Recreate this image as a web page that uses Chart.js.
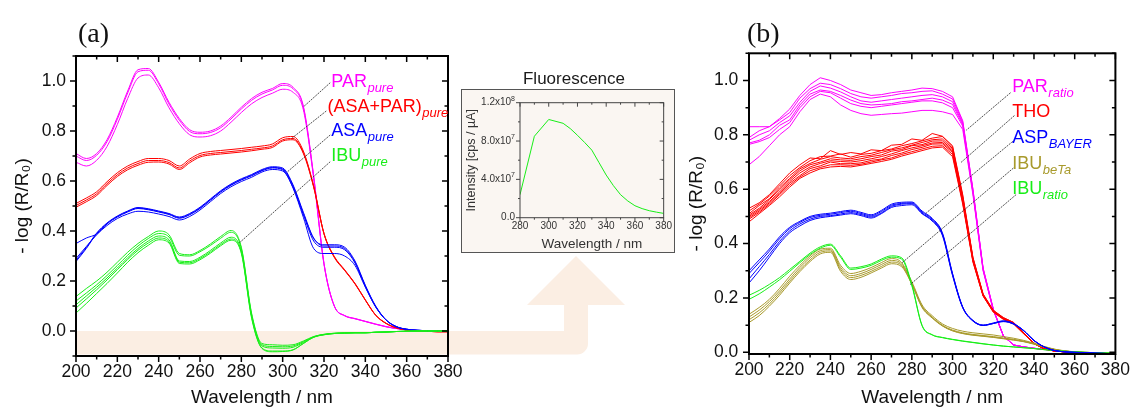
<!DOCTYPE html>
<html>
<head>
<meta charset="utf-8">
<title>UV reflectance spectra</title>
<script src="https://cdn.jsdelivr.net/npm/chart.js@4.4.1/dist/chart.umd.min.js"></script>
<style>
  html, body { margin: 0; padding: 0; background: #fff; }
  #page { position: relative; width: 1136px; height: 410px; overflow: hidden; font-family: "Liberation Sans", Arial, sans-serif; }
  canvas { position: absolute; }
  #chartA { left: 0; top: 0; z-index: 1; }
  #chartB { left: 680px; top: 0; z-index: 1; }
  #inset { position: absolute; left: 461px; top: 89px; width: 214px; height: 164px; box-sizing: border-box; border: 1px solid #555; background: #faf6f2; z-index: 2; }
  #chartF { left: 461px; top: 89px; z-index: 3; }
  #fluoTitle { position: absolute; left: 474px; width: 200px; top: 69px; text-align: center; font-size: 17px; line-height: 20px; color: #1a1a1a; z-index: 3; }
  .panel { position: absolute; top: 17px; font-family: "Liberation Serif", "Times New Roman", serif; font-size: 28px; line-height: 32px; color: #111; z-index: 3; }
</style>
</head>
<body>
<div id="page">
  <div class="panel" style="left:78px">(a)</div>
  <div class="panel" style="left:747px">(b)</div>
  <canvas id="chartA" width="680" height="410"></canvas>
  <div id="inset"></div>
  <div id="fluoTitle">Fluorescence</div>
  <canvas id="chartF" width="214" height="164"></canvas>
  <canvas id="chartB" width="456" height="410"></canvas>
</div>
<script>
// ---- shared wavelength grid (nm) and axis ticks ----
const WL = [200,205,210,215,220,225,230,235,240,245,250,255,260,265,270,275,280,285,290,295,300,305,310,315,320,325,330,335,340,345,350,355,360,365,370,375,380];
const X_TICKS = [200,220,240,260,280,300,320,340,360,380];
const Y_TICKS = [0,0.2,0.4,0.6,0.8,1.0];

// ---- (a) pure substances, -log(R/R0) ----
const PAR_PURE_1 = [0.71,0.69,0.71,0.765,0.855,0.96,1.045,1.05,0.995,0.915,0.85,0.805,0.795,0.80,0.82,0.855,0.895,0.93,0.955,0.97,0.99,0.975,0.9,0.62,0.27,0.1,0.062,0.05,0.039,0.028,0.018,0.01,0.005,0.002,0.001,0,0];
const PAR_PURE_2 = [0.70,0.682,0.703,0.757,0.847,0.952,1.037,1.043,0.989,0.908,0.843,0.798,0.789,0.794,0.813,0.848,0.888,0.923,0.948,0.964,0.983,0.969,0.895,0.618,0.27,0.1,0.061,0.049,0.038,0.027,0.017,0.01,0.005,0.002,0.001,0,0];
const PAR_PURE_3 = [0.675,0.66,0.683,0.738,0.826,0.93,1.012,1.024,0.973,0.893,0.829,0.785,0.776,0.781,0.80,0.835,0.874,0.909,0.934,0.951,0.967,0.955,0.885,0.61,0.265,0.099,0.061,0.049,0.038,0.027,0.017,0.01,0.005,0.002,0.001,0,0];

const MIX_PURE_1 = [0.51,0.532,0.557,0.597,0.633,0.66,0.678,0.69,0.69,0.682,0.66,0.688,0.71,0.718,0.722,0.726,0.73,0.735,0.74,0.748,0.773,0.778,0.72,0.58,0.39,0.298,0.245,0.19,0.125,0.064,0.031,0.013,0.004,0,-0.001,-0.003,-0.003];
const MIX_PURE_2 = [0.502,0.524,0.549,0.589,0.625,0.652,0.67,0.682,0.682,0.674,0.652,0.68,0.702,0.71,0.714,0.718,0.722,0.727,0.732,0.74,0.765,0.77,0.714,0.578,0.39,0.296,0.243,0.19,0.124,0.063,0.031,0.013,0.004,0,-0.001,-0.003,-0.003];
const MIX_PURE_3 = [0.495,0.517,0.542,0.582,0.618,0.645,0.663,0.675,0.676,0.668,0.646,0.673,0.696,0.704,0.708,0.712,0.716,0.721,0.727,0.734,0.76,0.765,0.71,0.575,0.388,0.294,0.242,0.188,0.123,0.063,0.03,0.012,0.004,0,-0.001,-0.003,-0.003];

const ASA_PURE_1 = [0.278,0.33,0.39,0.43,0.458,0.478,0.492,0.487,0.478,0.468,0.453,0.467,0.492,0.525,0.558,0.585,0.606,0.623,0.643,0.654,0.648,0.58,0.47,0.37,0.345,0.345,0.335,0.28,0.183,0.1,0.045,0.018,0.007,0.003,0.001,0,0];
const ASA_PURE_2 = [0.283,0.334,0.392,0.432,0.46,0.48,0.494,0.489,0.48,0.47,0.456,0.47,0.495,0.528,0.561,0.588,0.609,0.626,0.646,0.657,0.652,0.585,0.475,0.372,0.34,0.34,0.33,0.276,0.18,0.098,0.044,0.017,0.007,0.003,0.001,0,0];
const ASA_PURE_3 = [0.29,0.338,0.385,0.422,0.45,0.468,0.479,0.476,0.468,0.458,0.444,0.458,0.484,0.517,0.55,0.577,0.598,0.615,0.636,0.646,0.64,0.575,0.465,0.36,0.335,0.335,0.325,0.272,0.178,0.097,0.044,0.017,0.007,0.003,0.001,0,0];
const ASA_PURE_4 = [0.35,0.372,0.388,0.428,0.456,0.476,0.49,0.485,0.476,0.466,0.451,0.465,0.49,0.523,0.556,0.583,0.604,0.621,0.641,0.652,0.645,0.572,0.455,0.33,0.31,0.31,0.3,0.262,0.175,0.096,0.044,0.017,0.007,0.003,0.001,0,0];

const IBU_PURE_1 = [0.138,0.17,0.2,0.235,0.275,0.315,0.35,0.378,0.4,0.385,0.31,0.305,0.322,0.348,0.378,0.402,0.335,0.07,-0.05,-0.055,-0.057,-0.055,-0.04,-0.022,-0.013,-0.009,-0.008,-0.007,-0.007,-0.005,-0.004,-0.002,-0.001,0,0,0,0];
const IBU_PURE_2 = [0.12,0.152,0.185,0.222,0.262,0.303,0.34,0.37,0.39,0.376,0.303,0.3,0.317,0.342,0.371,0.395,0.33,0.065,-0.055,-0.062,-0.063,-0.06,-0.043,-0.023,-0.014,-0.009,-0.008,-0.007,-0.007,-0.005,-0.004,-0.002,-0.001,0,0,0,0];
const IBU_PURE_3 = [0.105,0.14,0.175,0.212,0.252,0.293,0.33,0.36,0.38,0.365,0.28,0.278,0.295,0.322,0.352,0.375,0.32,0.06,-0.06,-0.068,-0.069,-0.065,-0.046,-0.024,-0.014,-0.01,-0.008,-0.007,-0.007,-0.005,-0.004,-0.002,-0.001,0,0,0,0];
const IBU_PURE_4 = [0.092,0.128,0.165,0.204,0.245,0.286,0.323,0.352,0.372,0.358,0.275,0.273,0.29,0.316,0.346,0.368,0.315,0.055,-0.068,-0.08,-0.08,-0.075,-0.05,-0.025,-0.015,-0.01,-0.008,-0.007,-0.007,-0.005,-0.004,-0.002,-0.001,0,0,0,0];
const IBU_PURE_5 = [0.072,0.11,0.15,0.19,0.232,0.275,0.313,0.343,0.365,0.352,0.27,0.268,0.285,0.311,0.341,0.363,0.31,0.05,-0.07,-0.083,-0.082,-0.076,-0.05,-0.025,-0.015,-0.01,-0.008,-0.007,-0.007,-0.005,-0.004,-0.002,-0.001,0,0,0,0];

// ---- (b) commercial tablets ----
const PAR_RATIO_1 = [0.83,0.83,0.83,0.86,0.895,0.945,0.985,1.01,1.0,0.985,0.965,0.955,0.945,0.948,0.955,0.96,0.965,0.972,0.97,0.96,0.94,0.852,0.6,0.31,0.16,0.06,0.027,0.02,0.015,0.011,0.007,0.004,0.001,-0.001,-0.003,-0.005,-0.007];
const PAR_RATIO_2 = [0.79,0.815,0.83,0.855,0.882,0.935,0.97,0.99,0.985,0.97,0.952,0.94,0.935,0.94,0.945,0.952,0.955,0.96,0.962,0.95,0.932,0.848,0.6,0.31,0.16,0.06,0.027,0.02,0.015,0.011,0.007,0.004,0.001,-0.001,-0.003,-0.005,-0.007];
const PAR_RATIO_3 = [0.78,0.80,0.815,0.845,0.87,0.92,0.96,0.98,0.972,0.958,0.94,0.925,0.92,0.925,0.93,0.935,0.94,0.945,0.948,0.94,0.922,0.842,0.595,0.308,0.158,0.06,0.027,0.02,0.015,0.011,0.007,0.004,0.001,-0.001,-0.003,-0.005,-0.007];
const PAR_RATIO_4 = [0.77,0.78,0.80,0.835,0.855,0.91,0.95,0.965,0.96,0.945,0.928,0.915,0.91,0.912,0.915,0.922,0.925,0.93,0.935,0.928,0.912,0.838,0.59,0.305,0.157,0.06,0.027,0.02,0.015,0.011,0.007,0.004,0.001,-0.001,-0.003,-0.005,-0.007];
const PAR_RATIO_5 = [0.765,0.775,0.79,0.82,0.845,0.90,0.94,0.96,0.955,0.935,0.915,0.905,0.90,0.905,0.91,0.915,0.92,0.925,0.925,0.918,0.9,0.832,0.588,0.303,0.156,0.06,0.027,0.02,0.015,0.011,0.007,0.004,0.001,-0.001,-0.003,-0.005,-0.007];
const PAR_RATIO_6 = [0.69,0.72,0.76,0.80,0.83,0.885,0.93,0.95,0.94,0.91,0.89,0.878,0.872,0.875,0.878,0.88,0.885,0.89,0.89,0.885,0.875,0.82,0.58,0.3,0.155,0.06,0.027,0.02,0.015,0.011,0.007,0.004,0.001,-0.001,-0.003,-0.005,-0.007];

const THO_1 = [0.53,0.55,0.58,0.62,0.66,0.69,0.715,0.712,0.742,0.728,0.735,0.73,0.745,0.742,0.762,0.765,0.785,0.78,0.805,0.795,0.76,0.58,0.35,0.215,0.155,0.128,0.11,0.072,0.034,0.014,0.005,0.002,0,-0.002,-0.003,-0.004,-0.005];
const THO_2 = [0.52,0.545,0.575,0.612,0.65,0.68,0.705,0.72,0.722,0.73,0.718,0.728,0.732,0.742,0.748,0.76,0.768,0.778,0.788,0.794,0.755,0.575,0.348,0.214,0.154,0.127,0.11,0.071,0.034,0.014,0.005,0.002,0,-0.002,-0.003,-0.004,-0.005];
const THO_3 = [0.51,0.54,0.565,0.605,0.64,0.675,0.695,0.71,0.72,0.715,0.712,0.72,0.725,0.735,0.745,0.752,0.762,0.772,0.782,0.785,0.75,0.57,0.345,0.212,0.153,0.126,0.109,0.071,0.033,0.014,0.005,0.002,0,-0.002,-0.003,-0.004,-0.005];
const THO_4 = [0.505,0.53,0.562,0.598,0.635,0.668,0.69,0.7,0.712,0.708,0.706,0.712,0.72,0.726,0.74,0.746,0.76,0.764,0.777,0.778,0.745,0.565,0.342,0.211,0.152,0.125,0.108,0.07,0.033,0.014,0.005,0.002,0,-0.002,-0.003,-0.004,-0.005];
const THO_5 = [0.5,0.525,0.555,0.59,0.628,0.66,0.682,0.695,0.705,0.702,0.7,0.705,0.712,0.72,0.73,0.742,0.752,0.76,0.77,0.772,0.74,0.56,0.34,0.21,0.151,0.124,0.107,0.07,0.033,0.013,0.005,0.002,0,-0.002,-0.003,-0.004,-0.005];
const THO_6 = [0.495,0.52,0.55,0.585,0.622,0.65,0.676,0.686,0.7,0.694,0.694,0.697,0.706,0.711,0.724,0.733,0.746,0.754,0.766,0.767,0.735,0.555,0.338,0.209,0.15,0.123,0.106,0.069,0.032,0.013,0.005,0.002,0,-0.002,-0.003,-0.004,-0.005];
const THO_7 = [0.49,0.515,0.545,0.58,0.615,0.645,0.668,0.68,0.69,0.69,0.688,0.692,0.7,0.708,0.715,0.728,0.738,0.748,0.758,0.76,0.728,0.55,0.335,0.208,0.149,0.122,0.105,0.068,0.032,0.013,0.005,0.002,0,-0.002,-0.003,-0.004,-0.005];
const THO_8 = [0.48,0.51,0.54,0.572,0.608,0.64,0.66,0.675,0.682,0.684,0.682,0.688,0.695,0.702,0.71,0.722,0.732,0.742,0.752,0.755,0.72,0.545,0.332,0.207,0.148,0.121,0.104,0.068,0.032,0.013,0.005,0.002,0,-0.002,-0.003,-0.004,-0.005];

const ASP_BAYER_1 = [0.30,0.34,0.38,0.425,0.46,0.482,0.50,0.508,0.512,0.518,0.523,0.515,0.506,0.522,0.545,0.552,0.553,0.52,0.493,0.44,0.29,0.167,0.118,0.1,0.108,0.116,0.106,0.08,0.044,0.02,0.007,0.002,0,-0.001,-0.003,-0.004,-0.005];
const ASP_BAYER_2 = [0.29,0.33,0.372,0.418,0.455,0.478,0.496,0.504,0.508,0.514,0.519,0.511,0.502,0.518,0.541,0.548,0.55,0.516,0.49,0.437,0.288,0.166,0.117,0.1,0.107,0.115,0.105,0.08,0.044,0.02,0.007,0.002,0,-0.001,-0.003,-0.004,-0.005];
const ASP_BAYER_3 = [0.27,0.315,0.36,0.408,0.447,0.472,0.49,0.5,0.503,0.509,0.514,0.507,0.498,0.513,0.537,0.545,0.547,0.512,0.486,0.434,0.285,0.165,0.116,0.099,0.106,0.114,0.104,0.079,0.044,0.02,0.007,0.002,0,-0.001,-0.003,-0.004,-0.005];
const ASP_BAYER_4 = [0.255,0.3,0.35,0.4,0.44,0.465,0.485,0.495,0.5,0.505,0.51,0.503,0.494,0.51,0.533,0.54,0.543,0.51,0.483,0.43,0.282,0.164,0.115,0.099,0.106,0.113,0.104,0.079,0.043,0.02,0.007,0.002,0,-0.001,-0.003,-0.004,-0.005];

const IBU_BETA_1 = [0.14,0.165,0.195,0.235,0.28,0.32,0.355,0.38,0.383,0.32,0.29,0.298,0.312,0.33,0.345,0.33,0.26,0.175,0.135,0.105,0.088,0.078,0.072,0.068,0.064,0.058,0.052,0.044,0.034,0.022,0.012,0.006,0.002,0,-0.001,-0.003,-0.004];
const IBU_BETA_2 = [0.13,0.155,0.187,0.226,0.27,0.312,0.348,0.374,0.378,0.312,0.282,0.29,0.305,0.323,0.338,0.325,0.255,0.17,0.13,0.1,0.082,0.072,0.066,0.062,0.058,0.053,0.048,0.041,0.032,0.021,0.011,0.005,0.002,0,-0.001,-0.003,-0.004];
const IBU_BETA_3 = [0.12,0.145,0.178,0.218,0.262,0.304,0.34,0.368,0.373,0.305,0.275,0.283,0.298,0.316,0.332,0.32,0.252,0.168,0.128,0.098,0.08,0.07,0.064,0.06,0.056,0.051,0.046,0.04,0.031,0.02,0.011,0.005,0.002,0,-0.001,-0.003,-0.004];
const IBU_BETA_4 = [0.11,0.135,0.17,0.21,0.255,0.297,0.334,0.362,0.368,0.298,0.268,0.276,0.292,0.31,0.326,0.315,0.25,0.165,0.126,0.097,0.079,0.069,0.063,0.059,0.055,0.05,0.045,0.039,0.03,0.02,0.011,0.005,0.002,0,-0.001,-0.003,-0.004];

const IBU_RATIO_1 = [0.21,0.228,0.25,0.275,0.305,0.335,0.365,0.388,0.398,0.355,0.31,0.315,0.325,0.343,0.355,0.348,0.25,0.1,0.065,0.055,0.048,0.042,0.037,0.032,0.027,0.023,0.02,0.017,0.014,0.01,0.007,0.004,0.002,0,-0.001,-0.002,-0.003];
const IBU_RATIO_2 = [0.195,0.215,0.24,0.267,0.298,0.33,0.36,0.383,0.394,0.35,0.305,0.31,0.32,0.338,0.35,0.343,0.245,0.098,0.064,0.054,0.047,0.041,0.036,0.031,0.027,0.023,0.02,0.017,0.014,0.01,0.007,0.004,0.002,0,-0.001,-0.002,-0.003];

// ---- inset: fluorescence emission ----
const FL_WL = [280,290,300,310,315,320,325,330,335,340,345,350,355,360,365,370,375,380];
const FL_INT = [2.4e7,8.5e7,1.025e8,0.985e8,0.93e8,0.86e8,0.785e8,0.705e8,0.575e8,0.445e8,0.335e8,0.24e8,0.175e8,0.125e8,0.095e8,0.073e8,0.058e8,0.045e8];
const FL_X_TICKS = [280,300,320,340,360,380];
const FL_Y_TICKS = [0,4e7,8e7,1.2e8];
const FL_Y_MANT = ['0.0', '4.0x10', '8.0x10', '1.2x10'];
const FL_Y_EXP = ['', '7', '7', '8'];

const MAGENTA = '#ff00ff', RED = '#ff0000', BLUE = '#0000ff', GREEN = '#18ee18', OLIVE = '#a89a2c';
const FONT = '"Liberation Sans", Arial, sans-serif';

Chart.defaults.font.family = FONT;
Chart.defaults.color = '#111';

const spectrum = (ys, color, smooth = true) => ({
  data: ys.map((v, i) => ({ x: WL[i], y: v })),
  borderColor: color,
  borderWidth: 1,
  pointRadius: 0,
  fill: false,
  tension: smooth ? 0.4 : 0,
  cubicInterpolationMode: smooth ? 'monotone' : 'default'
});

// frame with major/minor ticks: out on left/bottom, in on top/right
const frameTicks = {
  id: 'frameTicks',
  afterDatasetsDraw(chart, args, o) {
    const { ctx, chartArea: a, scales: { x, y } } = chart;
    const steps = (min, max, step) => {
      const out = [];
      for (let k = Math.ceil(min / step - 1e-9); k <= Math.floor(max / step + 1e-9); k++) out.push(k * step);
      return out;
    };
    const isMajor = (v, step) => Math.abs(v / step - Math.round(v / step)) < 1e-6;
    ctx.save();
    ctx.strokeStyle = o.color;
    ctx.lineWidth = o.tickWidth;
    ctx.beginPath();
    steps(x.min, x.max, o.xMinor).forEach(v => {
      const px = x.getPixelForValue(v), len = isMajor(v, o.xMajor) ? o.major : o.minor;
      ctx.moveTo(px, a.bottom); ctx.lineTo(px, a.bottom + len);
      ctx.moveTo(px, a.top); ctx.lineTo(px, a.top + len);
    });
    steps(y.min, y.max, o.yMinor).forEach(v => {
      const py = y.getPixelForValue(v), len = isMajor(v, o.yMajor) ? o.major : o.minor;
      ctx.moveTo(a.left, py); ctx.lineTo(a.left - len, py);
      ctx.moveTo(a.right, py); ctx.lineTo(a.right - len, py);
    });
    ctx.stroke();
    ctx.lineWidth = o.width;
    ctx.strokeRect(a.left, a.top, a.right - a.left, a.bottom - a.top);
    ctx.restore();
  }
};

// coloured series names with italic subscripts and thin leader lines
const seriesLabels = {
  id: 'seriesLabels',
  afterDatasetsDraw(chart, args, o) {
    if (!o.items) return;
    const { ctx, scales: { x, y } } = chart;
    ctx.save();
    ctx.strokeStyle = '#222';
    ctx.lineWidth = 0.8;
    ctx.setLineDash([2, 1]);
    o.items.forEach(it => {
      ctx.beginPath();
      ctx.moveTo(x.getPixelForValue(it.leader[0][0]), y.getPixelForValue(it.leader[0][1]));
      ctx.lineTo(x.getPixelForValue(it.leader[1][0]), y.getPixelForValue(it.leader[1][1]));
      ctx.stroke();
    });
    ctx.setLineDash([]);
    ctx.textBaseline = 'alphabetic';
    ctx.textAlign = 'left';
    o.items.forEach(it => {
      const px = x.getPixelForValue(it.at[0]), py = y.getPixelForValue(it.at[1]);
      ctx.fillStyle = it.color;
      ctx.font = `${o.size}px ${FONT}`;
      ctx.fillText(it.text, px, py);
      const w = ctx.measureText(it.text).width;
      ctx.font = `italic ${o.subSize}px ${FONT}`;
      ctx.fillText(it.sub, px + w + 0.5, py + o.subDrop);
    });
    ctx.restore();
  }
};

// "m.mx10^e" labels for the inset intensity axis, exponent raised
const powerTicks = {
  id: 'powerTicks',
  afterDraw(chart, args, o) {
    if (!o.values) return;
    const { ctx, chartArea: a, scales: { y } } = chart;
    ctx.save();
    ctx.fillStyle = o.color;
    ctx.textBaseline = 'middle';
    o.values.forEach((v, i) => {
      const py = y.getPixelForValue(v);
      let px = a.left - o.pad;
      ctx.textAlign = 'right';
      if (o.exp[i]) {
        ctx.font = `${o.expSize}px ${FONT}`;
        ctx.fillText(o.exp[i], px, py - o.raise);
        px -= ctx.measureText(o.exp[i]).width;
      }
      ctx.font = `${o.size}px ${FONT}`;
      ctx.fillText(o.mant[i], px, py);
    });
    ctx.restore();
  }
};

// pale arrow running from the zero line of (a) up to the inset
const arrowBand = {
  id: 'arrowBand',
  beforeDraw(chart, args, o) {
    if (!o.color) return;
    const { ctx, chartArea: a, scales: { y } } = chart;
    const top = y.getPixelForValue(0), bot = a.bottom - 1.5;
    const mid = (o.stemL + o.stemR) / 2;
    ctx.save();
    ctx.fillStyle = o.color;
    ctx.beginPath();
    ctx.moveTo(a.left, top);
    ctx.lineTo(o.stemL, top);
    ctx.lineTo(o.stemL, o.headY);
    ctx.lineTo(o.headL, o.headY);
    ctx.lineTo(mid, o.tipY);
    ctx.lineTo(o.headR, o.headY);
    ctx.lineTo(o.stemR, o.headY);
    ctx.lineTo(o.stemR, bot - o.r);
    ctx.arcTo(o.stemR, bot, o.stemR - o.r, bot, o.r);
    ctx.lineTo(a.left, bot);
    ctx.closePath();
    ctx.fill();
    ctx.restore();
  }
};

function spectraOptions(cfg) {
  return {
    responsive: false,
    animation: false,
    devicePixelRatio: 1,
    layout: { autoPadding: false, padding: cfg.padding },
    plugins: {
      legend: { display: false },
      tooltip: { enabled: false },
      frameTicks: { color: '#000', width: 2, tickWidth: 1.5, major: 6, minor: 3.5, xMajor: 20, xMinor: 10, yMajor: 0.2, yMinor: 0.1 },
      seriesLabels: { size: 18, subSize: 13, subDrop: 5, items: cfg.labels },
      arrowBand: cfg.arrow || {}
    },
    scales: {
      x: {
        type: 'linear', min: 200, max: 380,
        grid: { display: false, drawTicks: false }, border: { display: false },
        afterBuildTicks: s => { s.ticks = X_TICKS.map(v => ({ value: v })); },
        afterFit: s => { s.height = cfg.xHeight; },
        ticks: { font: { size: 17.5 }, color: '#111', padding: 6, maxRotation: 0 },
        title: { display: true, text: 'Wavelength / nm', font: { size: 19 }, color: '#111', padding: { top: 0, bottom: 0.6 } }
      },
      y: {
        type: 'linear', min: cfg.yMin, max: 1.1,
        grid: { display: false, drawTicks: false }, border: { display: false },
        afterBuildTicks: s => { s.ticks = Y_TICKS.map(v => ({ value: v })); },
        afterFit: s => { s.width = cfg.yWidth; },
        ticks: { font: { size: 17.5 }, color: '#111', padding: cfg.yTickPad, callback: v => v.toFixed(1) },
        title: { display: true, text: '- log (R/R\u2080)', font: { size: 19 }, color: '#111', padding: { top: cfg.yTitlePad, bottom: 0 } }
      }
    }
  };
}

const ctxA = document.getElementById('chartA');
new Chart(ctxA, {
  type: 'line',
  data: {
    datasets: [
      spectrum(IBU_PURE_1, GREEN), spectrum(IBU_PURE_2, GREEN), spectrum(IBU_PURE_3, GREEN), spectrum(IBU_PURE_4, GREEN), spectrum(IBU_PURE_5, GREEN),
      spectrum(ASA_PURE_1, BLUE), spectrum(ASA_PURE_2, BLUE), spectrum(ASA_PURE_3, BLUE), spectrum(ASA_PURE_4, BLUE),
      spectrum(MIX_PURE_1, RED), spectrum(MIX_PURE_2, RED), spectrum(MIX_PURE_3, RED),
      spectrum(PAR_PURE_1, MAGENTA), spectrum(PAR_PURE_2, MAGENTA), spectrum(PAR_PURE_3, MAGENTA)
    ]
  },
  options: spectraOptions({
    padding: { left: 0, top: 56, right: 232, bottom: 0 },
    xHeight: 54, yWidth: 76, yMin: -0.1, yTickPad: 10, yTitlePad: 11.6,
    arrow: { color: '#fbeee3', stemL: 564, stemR: 588, headL: 527, headR: 625, headY: 305, tipY: 256, r: 11 },
    labels: [
      { text: 'PAR', sub: 'pure', color: MAGENTA, at: [323.5, 0.978], leader: [[323, 0.993], [310.1, 0.897]] },
      { text: '(ASA+PAR)', sub: 'pure', color: RED, at: [321.7, 0.878], leader: [[321.1, 0.88], [304.6, 0.772]] },
      { text: 'ASA', sub: 'pure', color: BLUE, at: [323.5, 0.78], leader: [[323, 0.784], [302.2, 0.636]] },
      { text: 'IBU', sub: 'pure', color: GREEN, at: [323.5, 0.682], leader: [[323, 0.677], [279.1, 0.353]] }
    ]
  }),
  plugins: [arrowBand, frameTicks, seriesLabels]
});

const ctxB = document.getElementById('chartB');
new Chart(ctxB, {
  type: 'line',
  data: {
    datasets: [
      spectrum(ASP_BAYER_1, BLUE), spectrum(ASP_BAYER_2, BLUE), spectrum(ASP_BAYER_3, BLUE), spectrum(ASP_BAYER_4, BLUE),
      spectrum(IBU_RATIO_1, GREEN), spectrum(IBU_RATIO_2, GREEN),
      spectrum(IBU_BETA_1, OLIVE), spectrum(IBU_BETA_2, OLIVE), spectrum(IBU_BETA_3, OLIVE), spectrum(IBU_BETA_4, OLIVE),
      spectrum(THO_1, RED, false), spectrum(THO_2, RED, false), spectrum(THO_3, RED, false), spectrum(THO_4, RED, false),
      spectrum(THO_5, RED, false), spectrum(THO_6, RED, false), spectrum(THO_7, RED, false), spectrum(THO_8, RED, false),
      spectrum(PAR_RATIO_1, MAGENTA, false), spectrum(PAR_RATIO_2, MAGENTA, false), spectrum(PAR_RATIO_3, MAGENTA, false),
      spectrum(PAR_RATIO_4, MAGENTA, false), spectrum(PAR_RATIO_5, MAGENTA, false), spectrum(PAR_RATIO_6, MAGENTA, false)
    ]
  },
  options: spectraOptions({
    padding: { left: 0, top: 53.3, right: 13, bottom: 0 },
    xHeight: 56, yWidth: 69, yMin: -0.006, yTickPad: 10.7, yTitlePad: 5.3,
    labels: [
      { text: 'PAR', sub: 'ratio', color: MAGENTA, at: [329.3, 0.958], leader: [[328.5, 0.955], [306.7, 0.817]] },
      { text: 'THO', sub: '', color: RED, at: [329.3, 0.864], leader: [[330.4, 0.871], [303.9, 0.697]] },
      { text: 'ASP', sub: 'BAYER', color: BLUE, at: [329.3, 0.770], leader: [[329.6, 0.776], [287.1, 0.513]] },
      { text: 'IBU', sub: 'beTa', color: OLIVE, at: [329.3, 0.676], leader: [[329.9, 0.678], [275.1, 0.329]] },
      { text: 'IBU', sub: 'ratio', color: GREEN, at: [329.3, 0.581], leader: [[331.2, 0.58], [279.1, 0.249]] }
    ]
  }),
  plugins: [frameTicks, seriesLabels]
});

const ctxF = document.getElementById('chartF');
new Chart(ctxF, {
  type: 'line',
  data: {
    datasets: [{
      data: FL_WL.map((w, i) => ({ x: w, y: FL_INT[i] })),
      borderColor: GREEN, borderWidth: 1, pointRadius: 0, fill: false, tension: 0
    }]
  },
  options: {
    responsive: false,
    animation: false,
    devicePixelRatio: 1,
    layout: { autoPadding: false, padding: { left: 0, top: 13.7, right: 11, bottom: 0 } },
    plugins: {
      legend: { display: false },
      tooltip: { enabled: false },
      frameTicks: { color: '#444', width: 1, tickWidth: 1, major: 4, minor: 2, xMajor: 20, xMinor: 10, yMajor: 4e7, yMinor: 2e7 },
      powerTicks: { values: FL_Y_TICKS, mant: FL_Y_MANT, exp: FL_Y_EXP, color: '#333', size: 10, expSize: 7, raise: 4, pad: 5 }
    },
    scales: {
      x: {
        type: 'linear', min: 280, max: 380,
        grid: { display: false, drawTicks: false }, border: { display: false },
        afterBuildTicks: s => { s.ticks = FL_X_TICKS.map(v => ({ value: v })); },
        afterFit: s => { s.height = 35.3; },
        ticks: { font: { size: 10 }, color: '#333', padding: 3, maxRotation: 0 },
        title: { display: true, text: 'Wavelength / nm', font: { size: 13.5 }, color: '#333', padding: { top: 0, bottom: 0.9 } }
      },
      y: {
        type: 'linear', min: 0, max: 1.2e8,
        grid: { display: false, drawTicks: false }, border: { display: false },
        afterBuildTicks: s => { s.ticks = FL_Y_TICKS.map(v => ({ value: v })); },
        afterFit: s => { s.width = 59; },
        ticks: { display: false },
        title: { display: true, text: 'Intensity [cps / \u00b5A]', font: { size: 12.5 }, color: '#333', padding: { top: 3.2, bottom: 0 } }
      }
    }
  },
  plugins: [frameTicks, powerTicks]
});
</script>
</body>
</html>
